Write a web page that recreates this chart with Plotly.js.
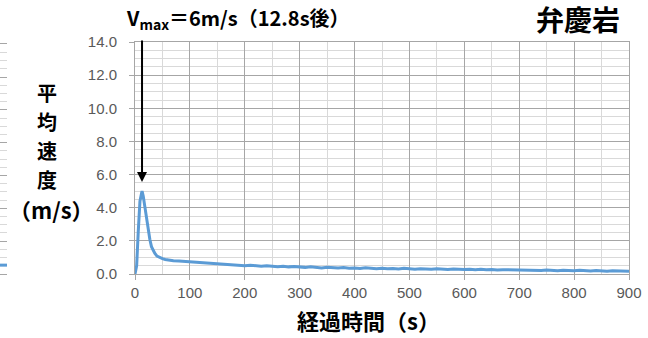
<!DOCTYPE html>
<html>
<head>
<meta charset="utf-8">
<script src="https://cdn.plot.ly/plotly-3.0.1.min.js"></script>
<style>html,body{margin:0;padding:0;background:#fff;}#chart{width:648px;height:338px;}</style>
</head>
<body>
<div id="chart"></div>
<script>
// elapsed time (s)
const timeS = [0, 3, 6, 9, 12.8, 15, 18, 21, 24, 27, 30, 33, 36, 40, 45, 50, 55, 60,
  70, 80, 90, 100, 110, 120, 130, 140, 150, 160, 170, 180, 190, 200,
  210, 220, 230, 240, 250, 260, 270, 280, 290, 300,
  310, 320, 330, 340, 350, 360, 370, 380, 390, 400,
  410, 420, 430, 440, 450, 460, 470, 480, 490, 500,
  510, 520, 530, 540, 550, 560, 570, 580, 590, 600,
  610, 620, 630, 640, 650, 660, 670, 680, 690, 700,
  710, 720, 730, 740, 750, 760, 770, 780, 790, 800,
  810, 820, 830, 840, 850, 860, 870, 880, 890, 900];
// mean velocity (m/s)
const meanVelocity = [0, 0.5, 2.6, 4.4, 5.0, 4.7, 4.05, 3.3, 2.65, 2.1, 1.65, 1.4, 1.25, 1.08, 0.98, 0.93, 0.88, 0.85,
  0.80, 0.78, 0.76, 0.72, 0.71, 0.68, 0.66, 0.64, 0.62, 0.58, 0.57, 0.55, 0.52, 0.50,
  0.53, 0.49, 0.47, 0.50, 0.46, 0.44, 0.47, 0.43, 0.45, 0.42,
  0.40, 0.43, 0.39, 0.37, 0.41, 0.38, 0.36, 0.39, 0.35, 0.36,
  0.33, 0.37, 0.34, 0.32, 0.35, 0.31, 0.33, 0.30, 0.34, 0.31,
  0.29, 0.32, 0.30, 0.28, 0.31, 0.29, 0.27, 0.30, 0.28, 0.27,
  0.29, 0.26, 0.28, 0.25, 0.27, 0.24, 0.26, 0.25, 0.23, 0.25,
  0.22, 0.24, 0.23, 0.21, 0.24, 0.22, 0.20, 0.23, 0.21, 0.19,
  0.22, 0.20, 0.18, 0.21, 0.19, 0.17, 0.20, 0.18, 0.17, 0.16];
// fragment of the neighbouring chart at the left edge
const fragTime = [880, 890, 900];
const fragVelocity = [0.27, 0.26, 0.27];

const xTickVals = [0, 100, 200, 300, 400, 500, 600, 700, 800, 900];
const xTickText = ['0', '100', '200', '300', '400', '500', '600', '700', '800', '900'];
const yTickVals = [0, 2, 4, 6, 8, 10, 12, 14];
const yTickText = ['0.0', '2.0', '4.0', '6.0', '8.0', '10.0', '12.0', '14.0'];

const titleText = 'V<sub>max</sub>＝6m/s（12.8s後）';
const locationText = '弁慶岩';
const xTitleText = '経過時間（s）';
const yTitleChars = ['平', '均', '速', '度'];
const yTitleUnit = '（m/s）';
const peakTime = 12.8;
const peakArrowY = 5.55;

const W = 648, H = 338, ML = 0, MR = 19, MT = 42, MB = 64;
const plotW = W - ML - MR;
const axisLeftPx = 135;

const blue = '#5B9BD5';
const majorGrid = '#a6a6a6';
const minorGrid = '#d9d9d9';
const tickFont = {family: 'Liberation Sans, Arial, sans-serif', size: 15, color: '#595959'};
const cjk = 'Noto Sans CJK JP, sans-serif';

const traces = [
  {x: timeS, y: meanVelocity, type: 'scatter', mode: 'lines', xaxis: 'x', yaxis: 'y',
   line: {color: blue, width: 3}, hoverinfo: 'skip'},
  {x: fragTime, y: fragVelocity, type: 'scatter', mode: 'lines', xaxis: 'x2', yaxis: 'y2',
   line: {color: blue, width: 3}, hoverinfo: 'skip'}
];

const annotations = [];
const charY = [92, 121, 150, 179];
yTitleChars.forEach((c, i) => {
  annotations.push({xref: 'paper', yref: 'paper', x: 0, y: 1, xshift: 47, yshift: MT - charY[i],
    xanchor: 'center', yanchor: 'middle', showarrow: false, borderpad: 0,
    text: '<b>' + c + '</b>', font: {family: cjk, size: 20, color: '#000'}});
});
annotations.push({xref: 'paper', yref: 'paper', x: 0, y: 1, xshift: 51, yshift: MT - 209,
  xanchor: 'center', yanchor: 'middle', showarrow: false, borderpad: 0,
  text: '<b>' + yTitleUnit + '</b>', font: {family: cjk, size: 22, color: '#000'}});
annotations.push({xref: 'paper', yref: 'paper', x: 0, y: 1, xshift: 124, yshift: MT - 18,
  xanchor: 'left', yanchor: 'middle', showarrow: false,
  text: '<b>' + titleText + '</b>', font: {family: cjk, size: 20, color: '#000'}});
annotations.push({xref: 'paper', yref: 'paper', x: 0, y: 1, xshift: 578, yshift: MT - 19,
  xanchor: 'center', yanchor: 'middle', showarrow: false,
  text: '<b>' + locationText + '</b>', font: {family: cjk, size: 28, color: '#000'}});
annotations.push({xref: 'paper', yref: 'paper', x: 0, y: 0, xshift: 368, yshift: (H - MB) - 320,
  xanchor: 'center', yanchor: 'middle', showarrow: false,
  text: '<b>' + xTitleText + '</b>', font: {family: cjk, size: 22, color: '#000'}});
annotations.push({xref: 'x', yref: 'y', x: peakTime, y: peakArrowY, ax: 0, ay: -143,
  text: '', showarrow: true, arrowhead: 2, arrowsize: 1, arrowwidth: 2, arrowcolor: '#000'});

const layout = {
  width: W, height: H,
  margin: {l: ML, r: MR, t: MT, b: MB, pad: 0},
  paper_bgcolor: '#fff', plot_bgcolor: '#fff',
  showlegend: false,
  xaxis: {domain: [axisLeftPx / plotW, 1], range: [0, 900], tickvals: xTickVals, ticktext: xTickText,
    showgrid: true, gridcolor: majorGrid, gridwidth: 1,
    minor: {dtick: 50, tick0: 0, showgrid: true, gridcolor: minorGrid, ticks: ''},
    ticks: 'outside', ticklen: 5, tickcolor: majorGrid, tickfont: tickFont,
    showline: true, linecolor: majorGrid, mirror: true, zeroline: false, fixedrange: true},
  yaxis: {domain: [0, 1], range: [0, 14], tickvals: yTickVals, ticktext: yTickText,
    showgrid: true, gridcolor: majorGrid, gridwidth: 1,
    minor: {dtick: 0.5, tick0: 0, showgrid: true, gridcolor: minorGrid, ticks: ''},
    ticks: 'outside', ticklen: 5, tickcolor: majorGrid, tickfont: tickFont, ticklabelstandoff: 9,
    showline: true, linecolor: majorGrid, mirror: true, zeroline: false, fixedrange: true},
  xaxis2: {domain: [0, 7 / plotW], range: [895, 900], tickvals: [900], ticktext: ['900'],
    showgrid: false, ticks: '', tickfont: tickFont, showline: true, linecolor: majorGrid, mirror: true,
    zeroline: false, anchor: 'y2', fixedrange: true},
  yaxis2: {domain: [0, 0.99], range: [0, 7], dtick: 1, showticklabels: false, anchor: 'x2',
    showgrid: true, gridcolor: majorGrid, minor: {dtick: 0.25, showgrid: true, gridcolor: minorGrid},
    showline: false, zeroline: false, ticks: '', fixedrange: true},
  annotations: annotations
};

Plotly.newPlot('chart', traces, layout, {staticPlot: true, displayModeBar: false});
</script>
</body>
</html>
